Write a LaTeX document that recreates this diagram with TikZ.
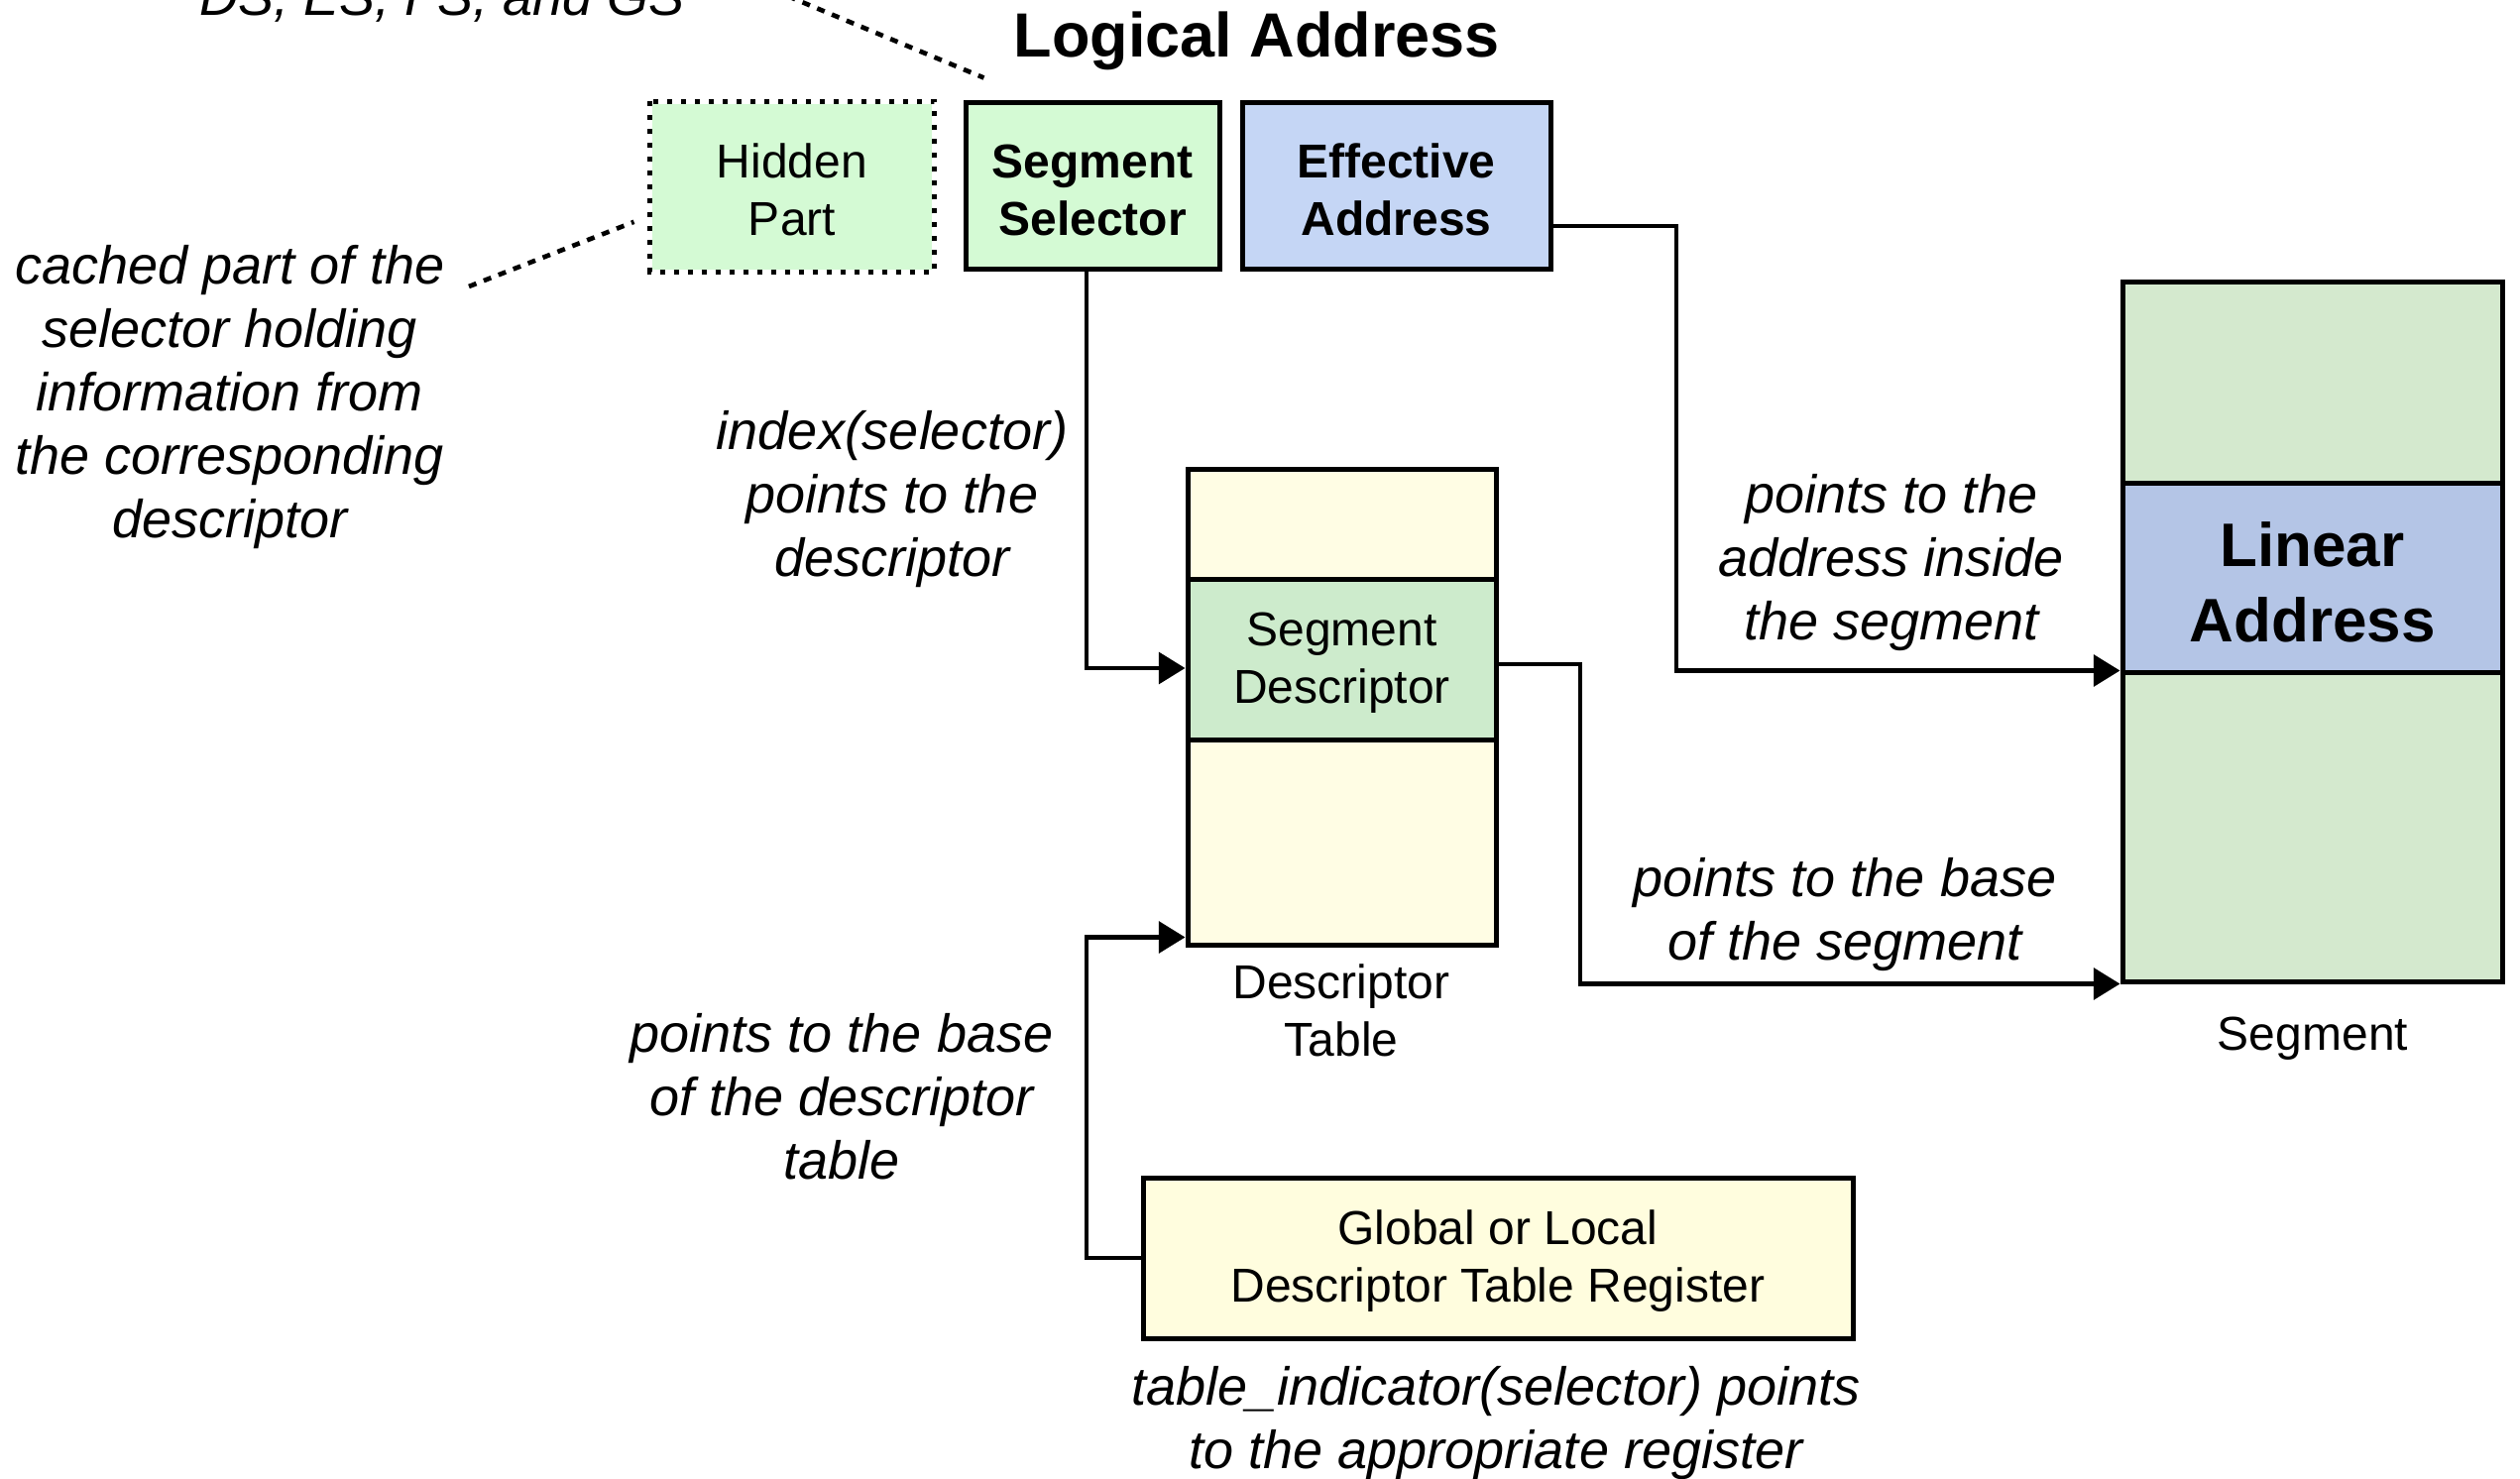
\documentclass[tikz,border=0pt]{standalone}
\usepackage{fontspec}
\setmainfont{Liberation Sans}
\usetikzlibrary{arrows.meta}

\definecolor{hidfill}{HTML}{D4FAD4}
\definecolor{selfill}{HTML}{D4FAD4}
\definecolor{efffill}{HTML}{C5D6F5}
\definecolor{tblfill}{HTML}{FFFDE4}
\definecolor{sdfill}{HTML}{CDEBCC}
\definecolor{segfill}{HTML}{D4E9CE}
\definecolor{linfill}{HTML}{B4C5E6}
\definecolor{regfill}{HTML}{FFFDDE}

\begin{document}
\begin{tikzpicture}[x=0.3pt,y=-0.3pt,
  box/.style={draw=black, line width=1.5pt, inner sep=0pt, align=center,
    font=\fontsize{14.4pt}{17.4pt}\selectfont},
  boldbox/.style={box, font=\fontsize{14.4pt}{17.4pt}\selectfont\bfseries},
  note/.style={align=center, inner sep=0pt,
    font=\fontsize{16.2pt}{19.2pt}\selectfont\itshape},
  plain/.style={align=center, inner sep=0pt,
    font=\fontsize{14.4pt}{17.4pt}\selectfont},
  conn/.style={line width=1.3pt, -{Triangle[length=8pt,width=9.5pt]}},
  callout/.style={line width=1.4pt, dash pattern=on 2.4pt off 2.4pt},
]
\useasboundingbox (0,0) rectangle (2542,1492);

% logical address: hidden part, selector, offset
\node[font=\fontsize{18.9pt}{22pt}\selectfont\bfseries] (title) at (1268,41) {Logical Address};
\node[box, draw=none, fill=hidfill, minimum width=84.6pt, minimum height=50.1pt] (hidden) at (799,188.5) {\strut Hidden\\Part};
\draw[line width=1.5pt, dash pattern=on 1.5pt off 2.7pt] (hidden.north west) rectangle (hidden.south east);
\node[boldbox, fill=selfill, minimum width=76.8pt, minimum height=50.4pt] (sel) at (1102,188) {\strut Segment\\Selector};
\node[boldbox, fill=efffill, minimum width=93.3pt, minimum height=50.4pt] (eff) at (1408.5,188) {\strut Effective\\Address};

% descriptor table with the selected entry
\node[box, fill=tblfill, minimum width=93.3pt, minimum height=144pt] (tbl) at (1353.5,713) {};
\node[box, fill=sdfill, minimum width=93.3pt, minimum height=48.6pt] (sdesc) at (1353.5,665) {\strut Segment\\Descriptor};
\node[plain] (tbllabel) at (1353,1019) {Descriptor\\Table};

% segment in the linear address space
\node[box, fill=segfill, minimum width=114.9pt, minimum height=211.8pt] (seg) at (2332.5,637) {};
\node[box, fill=linfill, minimum width=114.9pt, minimum height=57.3pt,
  font=\fontsize{18.6pt}{22.8pt}\selectfont\bfseries] (lin) at (2332.5,583.5) {\strut Linear\\Address};
\node[plain] (seglabel) at (2333,1048) {Segment};

% descriptor table register
\node[box, fill=regfill, minimum width=214.8pt, minimum height=48.6pt] (gdt) at (1511,1269) {\strut Global or Local\\Descriptor Table Register};

% routing columns
\coordinate (busx) at (1096,0);
\coordinate (effx) at (1691,0);
\coordinate (sdx) at (1594,0);
\coordinate (effout) at ([yshift=-12pt]eff.east);
\coordinate (sdout) at ([yshift=-1.5pt]sdesc.east);
\coordinate (sdin) at ([yshift=-2.7pt]sdesc.west);
\coordinate (linin) at ([yshift=1.5pt]lin.south west);
\coordinate (tblin) at ([yshift=3pt]tbl.south west);

\draw[conn] (sel.south -| busx) |- (sdin);
\draw[conn] (effout) -- (effout -| effx) |- (linin);
\draw[conn] (sdout) -- (sdout -| sdx) |- (seg.south west);
\draw[conn] (gdt.west) -- (gdt.west -| busx) |- (tblin);

% annotations
\node[note] (idxnote) at (900,504) {index(selector)\\points to the\\descriptor};
\node[note] (addrnote) at (1908,568) {points to the\\address inside\\the segment};
\node[note] (basenote) at (1861,923) {points to the base\\of the segment};
\node[note] (tblnote) at (849,1106) {points to the base\\of the descriptor\\table};
\node[note] (cachenote) at (232,401) {cached part of the\\selector holding\\information from\\the corresponding\\descriptor};
\node[note] (tinote) at (1509,1436) {table\_indicator(selector) points\\to the appropriate register};
\node[note, anchor=base] (regnote) at (446,16) {DS, ES, FS, and GS};

\coordinate (cachefrom) at (473,289);
\draw[callout] (cachefrom) -- ([shift={(-4.8pt,-10.6pt)}]hidden.west);
\coordinate (regfrom) at (780,-10);
\draw[callout] (regfrom) -- ([shift={(6.3pt,6.9pt)}]sel.north west);
\end{tikzpicture}
\end{document}
